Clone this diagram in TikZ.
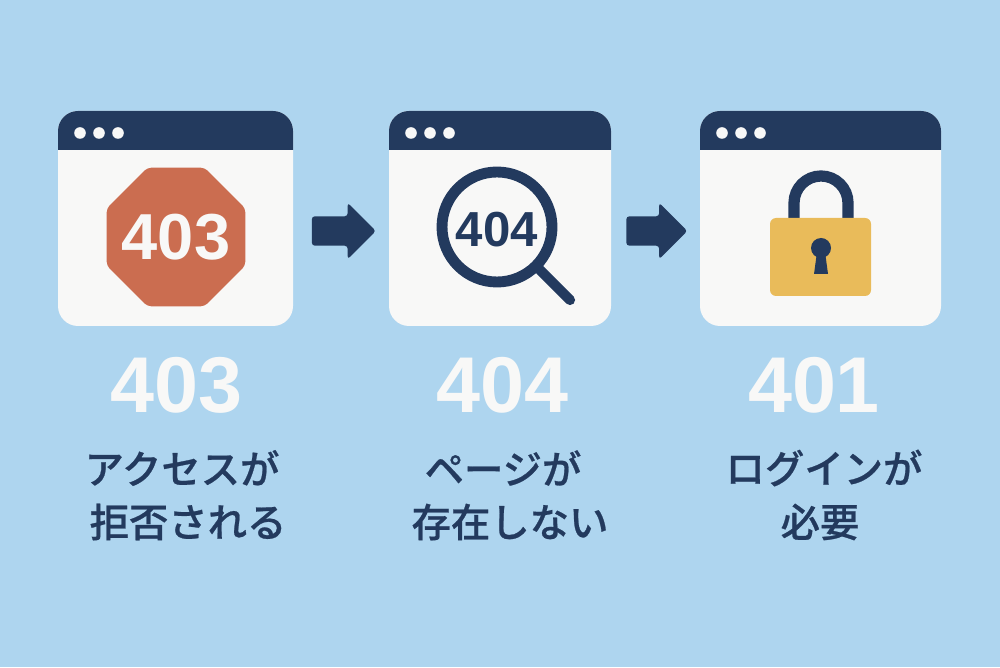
\documentclass[tikz,border=0pt]{standalone}
\usepackage{fontspec}
\setmainfont{Liberation Sans}
\newfontfamily\cjk[FakeBold=.6]{Noto Sans CJK JP Medium}
\usetikzlibrary{shapes.arrows,shapes.geometric}
\definecolor{skyback}{HTML}{AED5EF}
\definecolor{navy}{HTML}{233A5E}
\definecolor{paper}{HTML}{F8F8F7}
\definecolor{stopred}{HTML}{CB6D50}
\definecolor{lockgold}{HTML}{E9BB5A}
\tikzset{
    stepnum/.style={text=paper,font=\fontsize{22.5}{27}\selectfont\bfseries,inner sep=0pt},
    caption/.style={text=navy,font=\fontsize{11.2}{15.4}\selectfont\cjk,align=center,inner sep=0pt},
    nextarrow/.style={single arrow,fill=navy,inner xsep=0pt,inner ysep=.14cm,minimum height=.64cm,
        single arrow head extend=.135cm,single arrow tip angle=90,rounded corners=.3mm},
}

\begin{document}
\begin{tikzpicture}
    \fill[skyback] (0,0) rectangle (10,6.67);
    \useasboundingbox (0,0) rectangle (10,6.67);

    % the three browser windows
    \foreach \xa/\xb in {.58/2.93,3.89/6.11,7.00/9.41} {
        \fill[paper,rounded corners=.2cm] (\xa,3.41) rectangle (\xb,5.56);
        \fill[navy] (\xa,5.17) [rounded corners=.2cm] -- (\xa,5.56) -- (\xb,5.56) [sharp corners] -- (\xb,5.17) -- cycle;
        \foreach \d in {.22,.41,.60} \fill[paper] (\xa+\d,5.34) circle (.058);
    }

    % 403 sign
    \node[regular polygon,regular polygon sides=8,fill=stopred,minimum size=1.5cm,
        inner sep=0pt,rounded corners=.4mm] (stopsign) at (1.76,4.30) {};
    \node[text=paper,inner sep=0pt,font=\fontsize{18.5}{22}\selectfont\bfseries] (stoptext) at (stopsign.center) {403};

    % 404 magnifier
    \draw[navy,line width=3.1pt] (4.97,4.40) circle (.55);
    \coordinate (handlea) at (5.40,3.97);
    \coordinate (handleb) at (5.70,3.67);
    \draw[navy,line width=2.9pt,line cap=round] (handlea) -- (handleb);
    \node[text=navy,inner sep=0pt,font=\fontsize{14}{17}\selectfont\bfseries] (lenstext) at (4.97,4.37) {404};

    % 401 lock
    \draw[navy,line width=3.2pt] (7.94,4.45) -- (7.94,4.64) arc (180:0:.27) -- (8.48,4.45);
    \fill[lockgold,rounded corners=.06cm] (7.70,3.71) rectangle (8.71,4.49);
    \fill[navy] (8.21,4.19) circle (.10);
    \fill[navy] (8.17,4.15) -- (8.14,3.93) -- (8.28,3.93) -- (8.25,4.15) -- cycle;

    % arrows in between
    \node[nextarrow] (arrowa) at (3.365,4.36) {};
    \node[nextarrow,minimum height=.61cm] (arrowb) at (6.495,4.36) {};

    % labels
    \node[stepnum] (numa) at (1.765,2.82) {403};
    \node[stepnum] (numb) at (5.025,2.82) {404};
    \node[stepnum] (numc) at (8.14,2.82) {401};

    \node[caption] (capa) at (1.82,1.99) {アクセスが};
    \node[caption] (capb) at (1.88,1.45) {拒否される};
    \node[caption] (capc) at (5.03,1.99) {ページが};
    \node[caption] (capd) at (5.10,1.45) {存在しない};
    \node[caption] (cape) at (8.24,1.99) {ログインが};
    \node[caption] (capf) at (8.20,1.45) {必要};
\end{tikzpicture}
\end{document}
